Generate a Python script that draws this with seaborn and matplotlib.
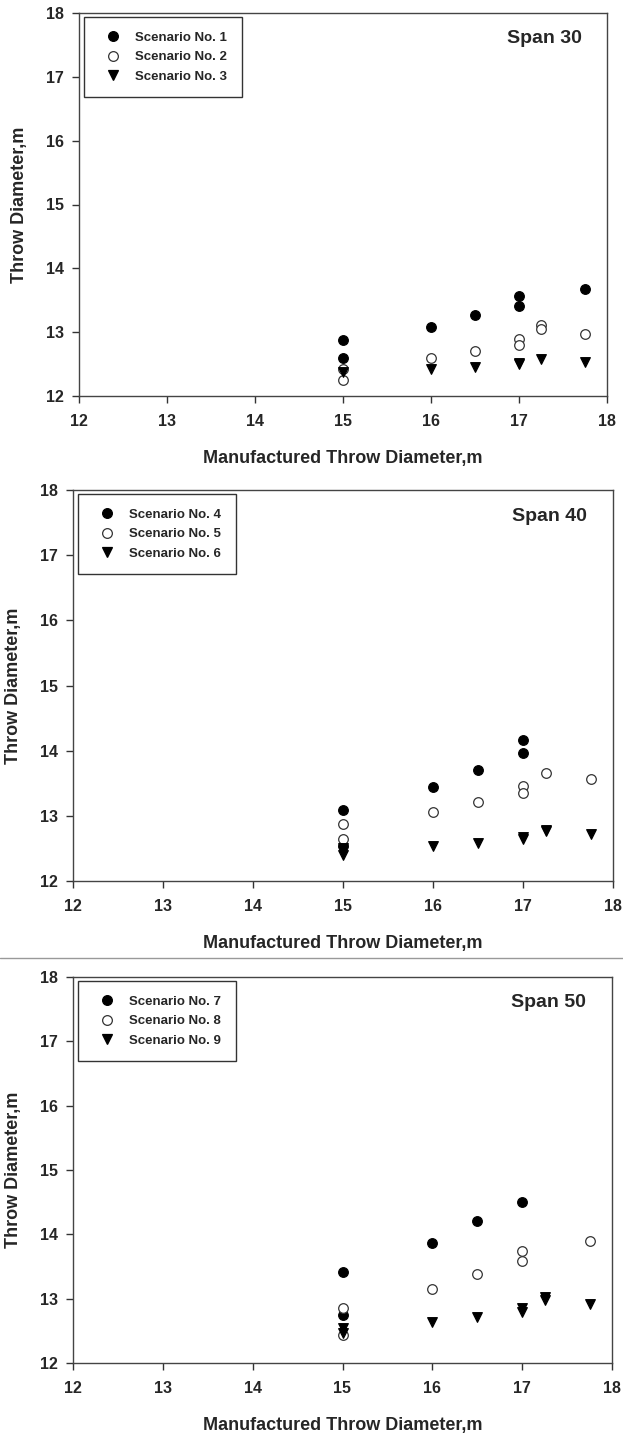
import matplotlib
matplotlib.use("Agg")
import matplotlib.pyplot as plt
import seaborn as sns
import pandas as pd
from matplotlib.lines import Line2D

sns.set_theme(style="white")
plt.rcParams['font.family'] = ['Liberation Sans', 'DejaVu Sans']

# ---- data ----
spans = ["Span 30", "Span 40", "Span 50"]
scenario_names = [["Scenario No. 1", "Scenario No. 2", "Scenario No. 3"],
                  ["Scenario No. 4", "Scenario No. 5", "Scenario No. 6"],
                  ["Scenario No. 7", "Scenario No. 8", "Scenario No. 9"]]

# Span 30
s1_x = [15, 15, 16, 16.5, 17, 17, 17.75]
s1_y = [12.87, 12.60, 13.08, 13.27, 13.56, 13.41, 13.67]
s2_x = [15, 15, 16, 16.5, 17, 17, 17.25, 17.25, 17.75]
s2_y = [12.43, 12.25, 12.59, 12.71, 12.89, 12.80, 13.12, 13.05, 12.97]
s3_x = [15, 16, 16.5, 17, 17, 17.25, 17.75]
s3_y = [12.37, 12.42, 12.46, 12.50, 12.52, 12.58, 12.54]

# Span 40
s4_x = [15, 15, 16, 16.5, 17, 17]
s4_y = [13.09, 12.54, 13.44, 13.71, 14.16, 13.96]
s5_x = [15, 15, 16, 16.5, 17, 17, 17.25, 17.75]
s5_y = [12.88, 12.65, 13.06, 13.21, 13.46, 13.35, 13.66, 13.56]
s6_x = [15, 15, 16, 16.5, 17, 17, 17.25, 17.25, 17.75]
s6_y = [12.50, 12.40, 12.53, 12.58, 12.68, 12.64, 12.79, 12.76, 12.72]

# Span 50
s7_x = [15, 15, 16, 16.5, 17]
s7_y = [13.42, 12.74, 13.87, 14.21, 14.50]
s8_x = [15, 15, 16, 16.5, 17, 17, 17.75]
s8_y = [12.86, 12.43, 13.15, 13.39, 13.74, 13.58, 13.89]
s9_x = [15, 15, 16, 16.5, 17, 17, 17.25, 17.25, 17.75]
s9_y = [12.55, 12.46, 12.63, 12.72, 12.86, 12.80, 13.02, 12.98, 12.91]

panel_data = [[(s1_x, s1_y), (s2_x, s2_y), (s3_x, s3_y)],
              [(s4_x, s4_y), (s5_x, s5_y), (s6_x, s6_y)],
              [(s7_x, s7_y), (s8_x, s8_y), (s9_x, s9_y)]]

ticks = [12, 13, 14, 15, 16, 17, 18]
xlabel = "Manufactured Throw Diameter,m"
ylabel = "Throw Diameter,m"

# ---- styles ----
W, H = 623, 1437
styles = [dict(marker="o", facecolor="black", edgecolor="black"),
          dict(marker="o", facecolor="white", edgecolor="#333333"),
          dict(marker="v", facecolor="black", edgecolor="black")]
# axes boxes in pixels: left, top, right, bottom
boxes = [(79, 13, 607, 396), (73, 490, 613, 881), (73, 977, 612, 1363)]

fig = plt.figure(figsize=(W / 100, H / 100), dpi=100)
fig.patch.set_facecolor("white")

for p in range(3):
    l, t, r, b = boxes[p]
    aw, ah = r - l, b - t
    ax = fig.add_axes([l / W, 1 - b / H, aw / W, ah / H])
    for k in range(3):
        xs, ys = panel_data[p][k]
        df = pd.DataFrame({"x": xs, "y": ys})
        st = styles[k]
        sns.scatterplot(data=df, x="x", y="y", ax=ax, marker=st["marker"],
                        color=st["facecolor"], edgecolor=st["edgecolor"],
                        linewidth=0.9, s=48, zorder=3, legend=False)
    ax.set_xlim(12, 18)
    ax.set_ylim(12, 18)
    ax.set_xticks(ticks)
    ax.set_yticks(ticks)
    ax.set_xticklabels([str(v) for v in ticks], fontweight="bold", fontsize=11.5)
    ax.set_yticklabels([str(v) for v in ticks], fontweight="bold", fontsize=11.5)
    ax.tick_params(axis="x", direction="out", length=5, width=1,
                   color="#333333", bottom=True, pad=8)
    ax.tick_params(axis="y", direction="out", length=5, width=1,
                   color="#333333", left=True, pad=6)
    for sp in ax.spines.values():
        sp.set_color("#444444")
        sp.set_linewidth(1.0)
    ax.set_xlabel(xlabel, fontweight="bold", fontsize=13, labelpad=15)
    ax.set_ylabel(ylabel, fontweight="bold", fontsize=13, labelpad=13)
    ax.text(0.952, 0.933, spans[p], transform=ax.transAxes, ha="right",
            va="center", fontweight="bold", fontsize=14)
    handles = [Line2D([], [], linestyle="none", marker=styles[k]["marker"],
                      markerfacecolor=styles[k]["facecolor"],
                      markeredgecolor=styles[k]["edgecolor"],
                      markersize=7, markeredgewidth=0.9)
               for k in range(3)]
    leg = ax.legend(handles, scenario_names[p], loc="upper left",
                    bbox_to_anchor=(5 / aw, 1 - 4 / ah), borderaxespad=0,
                    frameon=True, fancybox=False,
                    edgecolor="#333333", framealpha=1, borderpad=1.1,
                    handletextpad=0.6, labelspacing=0.55, handlelength=2.2,
                    prop={"weight": "bold", "size": 9.5})
    leg.get_frame().set_linewidth(1.0)

# separator line between panels 2 and 3
fig.add_artist(Line2D([0, 1], [1 - 958 / H, 1 - 958 / H], color="#999999",
                      linewidth=1.0))

fig.savefig("out.png", dpi=100, facecolor="white")
